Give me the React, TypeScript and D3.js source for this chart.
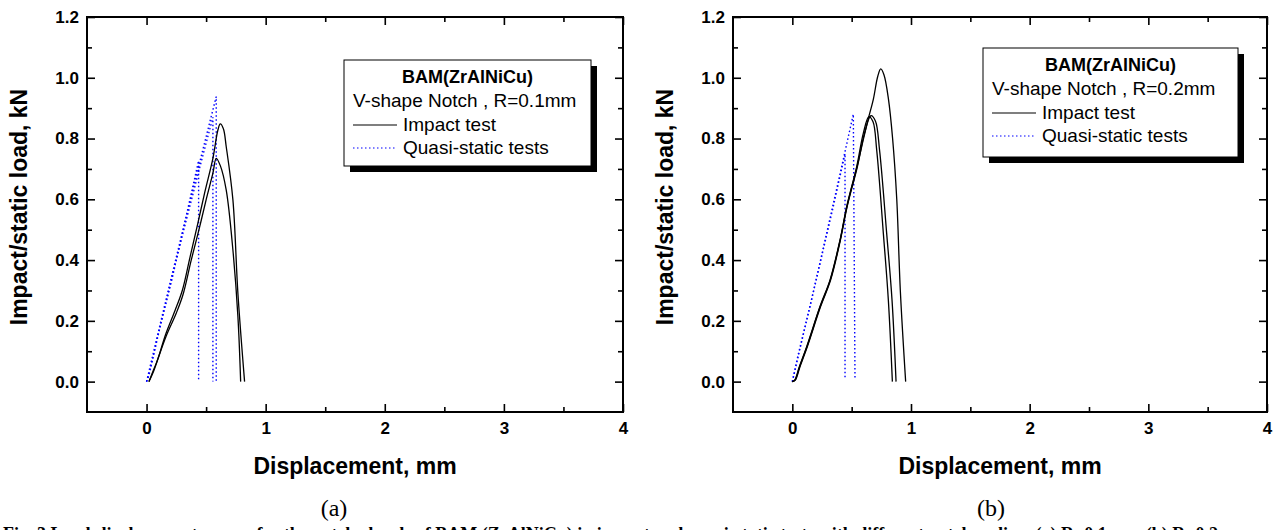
import * as d3 from "d3";
import { useEffect, useRef } from "react";

type Pt = [number, number];

// axis ticks
const xMajor = [0, 1, 2, 3, 4];
const xMinor = [0.5, 1.5, 2.5, 3.5];
const yMajor = [0, 0.2, 0.4, 0.6, 0.8, 1.0, 1.2];
const yMinor = [0.1, 0.3, 0.5, 0.7, 0.9, 1.1];

// (a) R=0.1mm, impact tests
const impactA1: Pt[] = [
  [0.02, 0], [0.06, 0.035], [0.1, 0.08], [0.16, 0.155], [0.24, 0.235], [0.3, 0.3],
  [0.365, 0.41], [0.43, 0.52], [0.49, 0.625], [0.557, 0.735], [0.599, 0.828], [0.619, 0.848],
  [0.645, 0.832], [0.669, 0.773], [0.725, 0.598], [0.767, 0.29], [0.823, 0],
];
const impactA2: Pt[] = [
  [0.02, 0], [0.05, 0.03], [0.081, 0.06], [0.165, 0.15], [0.249, 0.225], [0.305, 0.285],
  [0.375, 0.4], [0.44, 0.5], [0.501, 0.6], [0.557, 0.686], [0.585, 0.735],
  [0.62, 0.71], [0.669, 0.63], [0.725, 0.433], [0.767, 0.214], [0.79, 0],
];
// (a) quasi-static tests
const staticA1: Pt[] = [[0, 0], [0.02, 0.02], [0.1, 0.16], [0.218, 0.345], [0.33, 0.54], [0.437, 0.727], [0.437, 0]];
const staticA2: Pt[] = [[0, 0], [0.03, 0.04], [0.15, 0.24], [0.3, 0.48], [0.45, 0.71], [0.557, 0.87], [0.557, 0]];
const staticA3: Pt[] = [[0, 0], [0.03, 0.05], [0.2, 0.33], [0.4, 0.65], [0.585, 0.938], [0.585, 0]];

// (b) R=0.2mm, impact tests
const impactB1: Pt[] = [
  [0, 0], [0.02, 0.005], [0.06, 0.05], [0.121, 0.115], [0.233, 0.247], [0.318, 0.335],
  [0.402, 0.466], [0.458, 0.576], [0.542, 0.707], [0.598, 0.817], [0.645, 0.872],
  [0.68, 0.855], [0.711, 0.762], [0.767, 0.488], [0.809, 0.269], [0.843, 0],
];
const impactB2: Pt[] = [
  [0, 0], [0.025, 0.005], [0.065, 0.05], [0.126, 0.115], [0.238, 0.247], [0.323, 0.335],
  [0.405, 0.466], [0.462, 0.576], [0.548, 0.707], [0.608, 0.817], [0.662, 0.875],
  [0.7, 0.858], [0.735, 0.762], [0.795, 0.488], [0.84, 0.269], [0.874, 0],
];
const impactB3: Pt[] = [
  [0, 0], [0.022, 0.005], [0.062, 0.05], [0.123, 0.115], [0.235, 0.247], [0.32, 0.335],
  [0.403, 0.466], [0.46, 0.576], [0.545, 0.707], [0.6, 0.8], [0.64, 0.865], [0.683, 0.93],
  [0.72, 1.005], [0.745, 1.029], [0.772, 1.01], [0.81, 0.93], [0.845, 0.8], [0.88, 0.6],
  [0.91, 0.3], [0.955, 0],
];
// (b) quasi-static tests
const staticB1: Pt[] = [[0, 0], [0.05, 0.09], [0.149, 0.247], [0.345, 0.576], [0.444, 0.75], [0.444, 0.01]];
const staticB2: Pt[] = [[0, 0], [0.206, 0.345], [0.4, 0.68], [0.514, 0.88], [0.528, 0.01]];

const legendTitle = "BAM(ZrAlNiCu)";
const legendImpact = "Impact test";
const legendStatic = "Quasi-static tests";
const xTitle = "Displacement, mm";
const yTitle = "Impact/static load, kN";

const panels = [
  {
    left: 87, right: 623, top: 17, bottom: 412,
    impact: [impactA1, impactA2], statics: [staticA1, staticA2, staticA3],
    notch: "V-shape Notch , R=0.1mm", tag: "(a)", tagX: 334,
    legend: { x: 344, y: 60, w: 247, h: 106 },
  },
  {
    left: 733, right: 1267, top: 17, bottom: 412,
    impact: [impactB1, impactB2, impactB3], statics: [staticB1, staticB2],
    notch: "V-shape Notch , R=0.2mm", tag: "(b)", tagX: 991,
    legend: { x: 983, y: 48, w: 255, h: 109 },
  },
];

const SANS = "'Liberation Sans', Arial, sans-serif";
const SERIF = "'Liberation Serif', 'Times New Roman', serif";
const BLUE = "#0000ff";

const App = () => {
  const ref = useRef<SVGSVGElement>(null);

  useEffect(() => {
    const svg = d3.select(ref.current);
    svg.selectAll("*").remove();

    panels.forEach((p) => {
      const x = d3.scaleLinear().domain([-0.5, 4]).range([p.left, p.right]);
      const y = d3.scaleLinear().domain([-0.1, 1.2]).range([p.bottom, p.top]);
      const g = svg.append("g");

      const styleAxis = (a: any) => {
        a.select(".domain").remove();
        a.selectAll("line").attr("stroke", "#000").attr("stroke-width", 1.6);
        a.selectAll("text")
          .attr("font-family", SANS)
          .attr("font-size", 17)
          .attr("font-weight", "bold")
          .attr("fill", "#000");
      };

      // major ticks
      g.append("g").attr("transform", `translate(0,${p.bottom})`)
        .call(d3.axisBottom(x).tickValues(xMajor).tickSize(-8).tickPadding(10).tickFormat(d3.format("d")))
        .call(styleAxis);
      g.append("g").attr("transform", `translate(0,${p.top})`)
        .call(d3.axisTop(x).tickValues(xMajor).tickSize(-8).tickFormat(() => ""))
        .call(styleAxis);
      g.append("g").attr("transform", `translate(${p.left},0)`)
        .call(d3.axisLeft(y).tickValues(yMajor).tickSize(-8).tickPadding(8).tickFormat(d3.format(".1f")))
        .call(styleAxis);
      g.append("g").attr("transform", `translate(${p.right},0)`)
        .call(d3.axisRight(y).tickValues(yMajor).tickSize(-8).tickFormat(() => ""))
        .call(styleAxis);

      // minor ticks
      g.append("g").attr("transform", `translate(0,${p.bottom})`)
        .call(d3.axisBottom(x).tickValues(xMinor).tickSize(-5).tickFormat(() => ""))
        .call(styleAxis);
      g.append("g").attr("transform", `translate(0,${p.top})`)
        .call(d3.axisTop(x).tickValues(xMinor).tickSize(-5).tickFormat(() => ""))
        .call(styleAxis);
      g.append("g").attr("transform", `translate(${p.left},0)`)
        .call(d3.axisLeft(y).tickValues(yMinor).tickSize(-5).tickFormat(() => ""))
        .call(styleAxis);
      g.append("g").attr("transform", `translate(${p.right},0)`)
        .call(d3.axisRight(y).tickValues(yMinor).tickSize(-5).tickFormat(() => ""))
        .call(styleAxis);

      // frame
      g.append("rect")
        .attr("x", p.left).attr("y", p.top)
        .attr("width", p.right - p.left).attr("height", p.bottom - p.top)
        .attr("fill", "none").attr("stroke", "#000").attr("stroke-width", 2);

      // curves
      const smooth = d3.line<Pt>().x(d => x(d[0])).y(d => y(d[1])).curve(d3.curveCatmullRom.alpha(0.5));
      const straight = d3.line<Pt>().x(d => x(d[0])).y(d => y(d[1]));

      p.statics.forEach((s) => {
        g.append("path").datum(s).attr("d", straight)
          .attr("fill", "none").attr("stroke", BLUE).attr("stroke-width", 1.4)
          .attr("stroke-dasharray", "1.5 2.5");
      });
      p.impact.forEach((s) => {
        g.append("path").datum(s).attr("d", smooth)
          .attr("fill", "none").attr("stroke", "#000").attr("stroke-width", 1.3);
      });

      // axis titles
      g.append("text")
        .attr("x", (p.left + p.right) / 2).attr("y", 474)
        .attr("text-anchor", "middle")
        .attr("font-family", SANS).attr("font-size", 23).attr("font-weight", "bold")
        .text(xTitle);
      g.append("text")
        .attr("transform", `translate(${p.left - 60},207) rotate(-90)`)
        .attr("text-anchor", "middle")
        .attr("font-family", SANS).attr("font-size", 23).attr("font-weight", "bold")
        .text(yTitle);

      // legend
      const L = p.legend;
      g.append("rect").attr("x", L.x + 6).attr("y", L.y + 6).attr("width", L.w).attr("height", L.h).attr("fill", "#000");
      g.append("rect").attr("x", L.x).attr("y", L.y).attr("width", L.w).attr("height", L.h)
        .attr("fill", "#fff").attr("stroke", "#000").attr("stroke-width", 1);
      g.append("text")
        .attr("x", L.x + L.w / 2).attr("y", L.y + 23)
        .attr("text-anchor", "middle")
        .attr("font-family", SANS).attr("font-size", 18).attr("font-weight", "bold")
        .text(legendTitle);
      g.append("text")
        .attr("x", L.x + 9).attr("y", L.y + 47)
        .attr("font-family", SANS).attr("font-size", 19)
        .text(p.notch);
      g.append("line")
        .attr("x1", L.x + 9).attr("x2", L.x + 53).attr("y1", L.y + 65).attr("y2", L.y + 65)
        .attr("stroke", "#000").attr("stroke-width", 1.2);
      g.append("text")
        .attr("x", L.x + 59).attr("y", L.y + 71)
        .attr("font-family", SANS).attr("font-size", 19)
        .text(legendImpact);
      g.append("line")
        .attr("x1", L.x + 9).attr("x2", L.x + 53).attr("y1", L.y + 88).attr("y2", L.y + 88)
        .attr("stroke", BLUE).attr("stroke-width", 1.2).attr("stroke-dasharray", "1.5 2.5");
      g.append("text")
        .attr("x", L.x + 59).attr("y", L.y + 94)
        .attr("font-family", SANS).attr("font-size", 19)
        .text(legendStatic);

      // panel tag
      g.append("text")
        .attr("x", p.tagX).attr("y", 516)
        .attr("text-anchor", "middle")
        .attr("font-family", SERIF).attr("font-size", 24)
        .text(p.tag);
    });

    // figure caption (cut off by the page edge, as in the source)
    svg.append("text")
      .attr("x", 3).attr("y", 540)
      .attr("font-family", SERIF).attr("font-size", 18).attr("font-weight", "bold")
      .text("Fig. 3 Load-displacement curves for the notched rods of BAM (ZrAlNiCu) in impact and quasi-static tests with different notch radius: (a) R=0.1mm, (b) R=0.2mm");
  }, []);

  return (
    <svg
      ref={ref}
      width={1281}
      height={530}
      style={{ position: "absolute", left: 0, top: 0, background: "#fff" }}
    />
  );
};

export default App;
